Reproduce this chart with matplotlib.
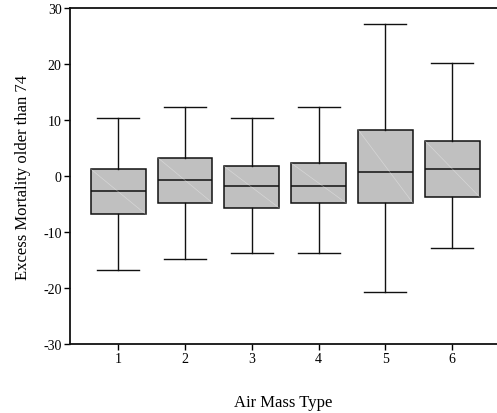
import matplotlib
matplotlib.use("Agg")
import matplotlib.pyplot as plt

# --- data ---
air_mass = [1, 2, 3, 4, 5, 6]
whisker_low = [-16.8, -14.8, -13.7, -13.7, -20.8, -12.8]
q1 = [-6.8, -4.8, -5.7, -4.8, -4.8, -3.75]
median = [-2.7, -0.8, -1.7, -1.7, 0.65, 1.3]
q3 = [1.25, 3.3, 1.7, 2.3, 8.3, 6.3]
whisker_high = [10.4, 12.3, 10.4, 12.3, 27.2, 20.2]

plt.rcParams['font.family'] = ['Liberation Serif', 'DejaVu Serif']
plt.rcParams['axes.unicode_minus'] = False

fig = plt.figure(figsize=(4.97, 4.14), dpi=100)
ax = fig.add_axes([70 / 497, 1 - 345 / 414, 1 - 70 / 497, 336 / 414])

stats = []
for i in range(len(air_mass)):
    stats.append(dict(med=median[i], q1=q1[i], q3=q3[i],
                      whislo=whisker_low[i], whishi=whisker_high[i],
                      label=str(air_mass[i])))

box_w = 0.82
ax.bxp(stats, positions=air_mass, widths=box_w, showfliers=False,
       patch_artist=True,
       boxprops=dict(facecolor='#c0c0c0', edgecolor='#111111', linewidth=1.1),
       medianprops=dict(color='#111111', linewidth=1.1),
       whiskerprops=dict(color='#111111', linewidth=1.0),
       capprops=dict(color='#111111', linewidth=1.0),
       capwidths=0.63)

# faint diagonal inside each box (as in the reference)
for i, p in enumerate(air_mass):
    ax.plot([p - box_w / 2, p + box_w / 2], [q3[i], q1[i]],
            color='white', lw=0.5, alpha=0.35, zorder=3)

ax.set_ylim(-30, 30)
ax.set_xlim(0.28, 6.67)
ax.set_yticks([-30, -20, -10, 0, 10, 20, 30])
ax.set_xticks(air_mass)
ax.set_xticklabels([str(a) for a in air_mass])

ax.spines['right'].set_visible(False)
for s in ['left', 'bottom', 'top']:
    ax.spines[s].set_linewidth(1.3)
    ax.spines[s].set_color('#111111')

ax.tick_params(direction='out', length=4, width=1.0, labelsize=10, pad=2)
ax.tick_params(axis='x', pad=2)

ax.set_ylabel('Excess Mortality older than 74', fontsize=12, labelpad=9)
ax.set_xlabel('Air Mass Type', fontsize=12, labelpad=21)

fig.savefig('out.png', dpi=100)
